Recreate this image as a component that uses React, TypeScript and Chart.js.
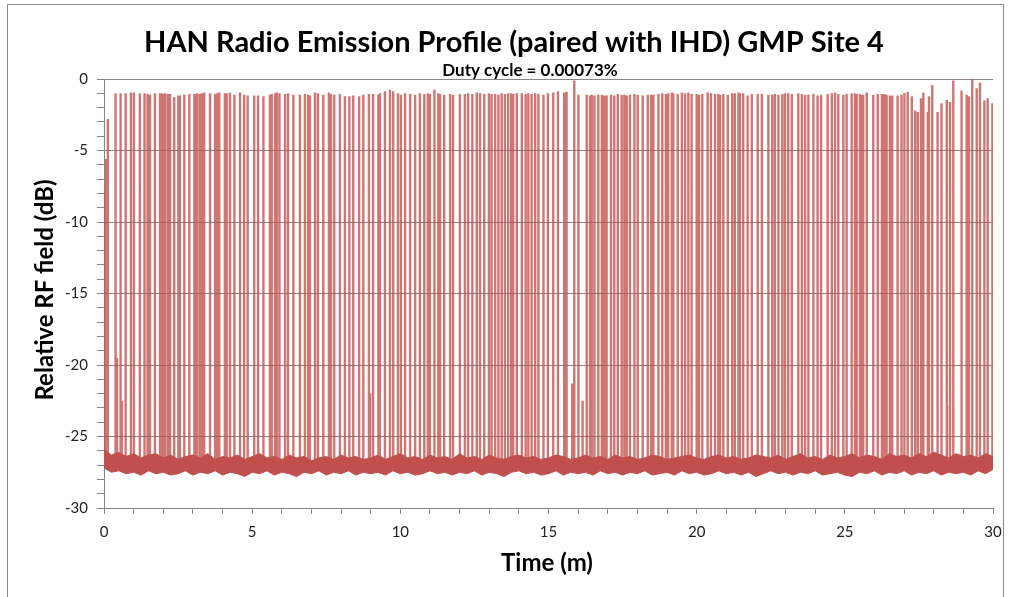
import React, { useEffect, useRef } from "react";
import { Chart, registerables } from "chart.js";

Chart.register(...registerables);

const TITLE = "HAN Radio Emission Profile (paired with IHD) GMP Site 4";
const SUBTITLE = "Duty cycle = 0.00073%";
const X_TITLE = "Time (m)";
const Y_TITLE = "Relative RF field (dB)";

const xTickLabels = [0, 5, 10, 15, 20, 25, 30];
const yTickLabels = [0, -5, -10, -15, -20, -25, -30];

const FLOOR_LEVEL = -27;

// [time (min), peak level (dB)] of each transmission burst
const spikes: [number, number][] = [
  [0.02, -7.8], [0.07, -5.6], [0.13, -2.8],
  [0.39, -1.0], [0.56, -1.0], [0.73, -1.0], [0.91, -0.95], [1.01, -0.95], [1.21, -1.0], [1.35, -1.0],
  [1.47, -1.05], [1.55, -1.1], [1.72, -1.0], [1.89, -1.0], [1.95, -1.0], [2.0, -1.05], [2.06, -1.0],
  [2.15, -1.05], [2.23, -1.05], [2.37, -1.25], [2.51, -1.15], [2.56, -1.15], [2.71, -1.1], [2.88, -1.05],
  [3.05, -1.05], [3.13, -1.0], [3.22, -1.05], [3.3, -1.0], [3.38, -0.95], [3.58, -1.0], [3.75, -1.05],
  [3.81, -1.0], [3.89, -0.95], [4.08, -1.0], [4.14, -1.0], [4.25, -0.95], [4.4, -1.1], [4.59, -0.95],
  [4.73, -1.1], [4.85, -1.15],
  [5.07, -1.15], [5.2, -1.15], [5.38, -1.2], [5.6, -1.1], [5.66, -1.05], [5.77, -1.0], [5.83, -0.95],
  [5.92, -1.0], [6.11, -1.05], [6.21, -1.0], [6.39, -1.1], [6.61, -1.1], [6.78, -1.05], [6.89, -1.1],
  [6.95, -1.15], [7.12, -0.95], [7.22, -1.0], [7.4, -1.1], [7.59, -0.95], [7.66, -1.05], [7.77, -1.1],
  [7.96, -1.05], [8.13, -1.2], [8.28, -1.2], [8.41, -1.15], [8.61, -1.2], [8.75, -1.1], [8.94, -1.05],
  [9.08, -1.05], [9.26, -1.1], [9.31, -1.0], [9.48, -0.85], [9.65, -0.75], [9.76, -0.85], [9.92, -1.0],
  [10.02, -1.1], [10.16, -1.0], [10.33, -1.05], [10.5, -1.1], [10.66, -1.0], [10.81, -1.05], [10.93, -1.0],
  [11.0, -1.05], [11.15, -0.75], [11.28, -1.0], [11.34, -1.05], [11.48, -1.1], [11.68, -1.05], [11.78, -1.1],
  [12.01, -1.05], [12.18, -1.05], [12.29, -1.0], [12.43, -1.05], [12.58, -0.95], [12.69, -1.0], [12.83, -1.05],
  [12.99, -1.0], [13.08, -1.05], [13.2, -1.05], [13.31, -1.1], [13.42, -1.0], [13.53, -1.05], [13.64, -1.0],
  [13.74, -1.0], [13.81, -1.05], [13.93, -1.0], [14.1, -1.0], [14.23, -1.05], [14.32, -1.0], [14.43, -1.05],
  [14.55, -1.0], [14.66, -1.05], [14.83, -1.1], [14.98, -1.0],
  [15.16, -0.95], [15.32, -0.85], [15.53, -0.95], [15.61, -0.9], [15.87, -0.1], [16.01, -1.1], [16.29, -1.1],
  [16.4, -1.15], [16.46, -1.1], [16.55, -1.15], [16.68, -1.1], [16.8, -1.1], [16.88, -1.15], [16.96, -1.15],
  [17.11, -1.1], [17.22, -1.15], [17.34, -1.05], [17.47, -1.1], [17.56, -1.1], [17.64, -1.15], [17.75, -1.1],
  [17.9, -1.05], [18.01, -1.1], [18.18, -1.15], [18.35, -1.1], [18.46, -1.1], [18.54, -1.1], [18.71, -1.05],
  [18.84, -1.0], [18.96, -1.05], [19.04, -1.0], [19.16, -0.95], [19.21, -1.0], [19.36, -1.05], [19.5, -0.95],
  [19.61, -1.0], [19.72, -0.95], [19.83, -1.05], [20.0, -1.05], [20.08, -1.1],
  [20.19, -1.05], [20.37, -0.95], [20.48, -1.0], [20.62, -1.05], [20.73, -1.05], [20.79, -1.1], [20.9, -1.05],
  [21.05, -1.1], [21.2, -1.0], [21.29, -1.0], [21.41, -0.95], [21.46, -1.0], [21.57, -1.0], [21.72, -1.15],
  [21.86, -1.05], [22.06, -1.05], [22.2, -1.05], [22.42, -1.1], [22.55, -1.1], [22.64, -1.05], [22.76, -1.1],
  [22.89, -1.05], [22.98, -1.0], [23.09, -1.0], [23.21, -1.05], [23.43, -1.0], [23.55, -1.05], [23.66, -1.1],
  [23.77, -1.1], [23.94, -1.05], [24.08, -1.15], [24.2, -1.1], [24.42, -1.05], [24.56, -1.0], [24.67, -0.95],
  [24.78, -1.05], [24.95, -1.1], [25.06, -1.05],
  [25.23, -1.0], [25.34, -1.0], [25.4, -1.05], [25.51, -1.05], [25.57, -1.1], [25.62, -1.1], [25.74, -0.95],
  [25.96, -1.1], [26.11, -1.05], [26.25, -1.05], [26.33, -1.05], [26.41, -1.1], [26.52, -1.15], [26.6, -1.15],
  [26.78, -1.15], [26.92, -1.1], [27.01, -1.0], [27.12, -0.9], [27.26, -1.2], [27.37, -2.2], [27.46, -2.3],
  [27.57, -1.35], [27.65, -0.95], [27.8, -2.3], [27.84, -1.2], [27.95, -0.42], [28.13, -2.3], [28.27, -1.7],
  [28.44, -1.47], [28.55, -1.6], [28.66, -0.1], [28.94, -0.8], [29.11, -1.1], [29.19, -1.2], [29.3, 0.0],
  [29.45, -0.65], [29.56, -0.25], [29.71, -1.5], [29.82, -1.35], [29.98, -1.7],
];

// weaker bursts that stay well below the main level
const lowSpikes: [number, number][] = [
  [0.44, -19.5], [0.6, -22.5], [1.38, -23.5], [8.98, -22.0], [15.8, -21.3],
  [16.15, -22.5], [26.9, -23.0], [28.25, -23.3], [28.45, -22.8],
];

// noise floor envelope, every quarter minute
const noiseTimes = [
  0, 0.25, 0.5, 0.75, 1, 1.25, 1.5, 1.75, 2, 2.25, 2.5, 2.75, 3, 3.25, 3.5, 3.75, 4, 4.25, 4.5, 4.75,
  5, 5.25, 5.5, 5.75, 6, 6.25, 6.5, 6.75, 7, 7.25, 7.5, 7.75, 8, 8.25, 8.5, 8.75, 9, 9.25, 9.5, 9.75,
  10, 10.25, 10.5, 10.75, 11, 11.25, 11.5, 11.75, 12, 12.25, 12.5, 12.75, 13, 13.25, 13.5, 13.75, 14, 14.25, 14.5, 14.75,
  15, 15.25, 15.5, 15.75, 16, 16.25, 16.5, 16.75, 17, 17.25, 17.5, 17.75, 18, 18.25, 18.5, 18.75, 19, 19.25, 19.5, 19.75,
  20, 20.25, 20.5, 20.75, 21, 21.25, 21.5, 21.75, 22, 22.25, 22.5, 22.75, 23, 23.25, 23.5, 23.75, 24, 24.25, 24.5, 24.75,
  25, 25.25, 25.5, 25.75, 26, 26.25, 26.5, 26.75, 27, 27.25, 27.5, 27.75, 28, 28.25, 28.5, 28.75, 29, 29.25, 29.5, 29.75,
  30,
];
const noiseUpper = [
  -25.9, -26.3, -26.1, -26.4, -26.2, -26.5, -26.3, -26.2, -26.5, -26.3,
  -26.6, -26.4, -26.3, -26.5, -26.2, -26.6, -26.4, -26.5, -26.3, -26.6,
  -26.4, -26.2, -26.5, -26.4, -26.6, -26.3, -26.5, -26.4, -26.7, -26.5,
  -26.4, -26.6, -26.3, -26.5, -26.4, -26.6, -26.5, -26.3, -26.6, -26.4,
  -26.2, -26.5, -26.4, -26.6, -26.3, -26.5, -26.4, -26.6, -26.2, -26.5,
  -26.4, -26.6, -26.3, -26.5, -26.6, -26.4, -26.3, -26.5, -26.4, -26.6,
  -26.5, -26.3, -26.4, -26.6, -26.5, -26.3, -26.5, -26.4, -26.6, -26.3,
  -26.5, -26.4, -26.6, -26.5, -26.3, -26.4, -26.6, -26.5, -26.4, -26.3,
  -26.5, -26.6, -26.4, -26.3, -26.5, -26.4, -26.6, -26.5, -26.3, -26.4,
  -26.5, -26.3, -26.6, -26.4, -26.2, -26.5, -26.4, -26.6, -26.3, -26.5,
  -26.4, -26.2, -26.5, -26.3, -26.4, -26.6, -26.2, -26.4, -26.3, -26.5,
  -26.2, -26.4, -26.1, -26.3, -26.5, -26.2, -26.4, -26.3, -26.5, -26.2,
  -26.4,
];
const noiseLower = [
  -27.2, -27.5, -27.4, -27.6, -27.5, -27.7, -27.4, -27.6, -27.5, -27.7,
  -27.6, -27.4, -27.7, -27.5, -27.6, -27.4, -27.7, -27.5, -27.6, -27.8,
  -27.5, -27.6, -27.4, -27.7, -27.5, -27.6, -27.8, -27.5, -27.6, -27.4,
  -27.7, -27.5, -27.6, -27.4, -27.7, -27.5, -27.6, -27.5, -27.7, -27.4,
  -27.6, -27.5, -27.7, -27.6, -27.4, -27.6, -27.5, -27.7, -27.5, -27.6,
  -27.4, -27.7, -27.5, -27.6, -27.8, -27.5, -27.4, -27.6, -27.5, -27.7,
  -27.6, -27.4, -27.7, -27.5, -27.6, -27.5, -27.7, -27.4, -27.6, -27.5,
  -27.7, -27.5, -27.6, -27.4, -27.7, -27.6, -27.5, -27.7, -27.4, -27.6,
  -27.5, -27.7, -27.6, -27.4, -27.6, -27.5, -27.7, -27.5, -27.8, -27.6,
  -27.4, -27.6, -27.5, -27.7, -27.5, -27.6, -27.4, -27.7, -27.6, -27.5,
  -27.7, -27.8, -27.5, -27.6, -27.4, -27.7, -27.5, -27.6, -27.4, -27.7,
  -27.5, -27.6, -27.4, -27.7, -27.5, -27.6, -27.5, -27.7, -27.4, -27.6,
  -27.3,
];

const LINE_COLOR = "rgb(192, 80, 77)";
const SPIKE_COLOR = "rgba(192, 80, 77, 0.78)";
const GRID_COLOR = "#868686";
const FONT = "Lato, 'Open Sans', sans-serif";

const titlesPlugin = {
  id: "titles",
  afterDraw(chart: any) {
    const ctx = chart.ctx as CanvasRenderingContext2D;
    ctx.save();
    ctx.fillStyle = "#000";
    ctx.textAlign = "center";
    ctx.textBaseline = "alphabetic";
    ctx.font = `bold 29px ${FONT}`;
    ctx.fillText(TITLE, 514, 52);
    ctx.font = `bold 17px ${FONT}`;
    ctx.fillText(SUBTITLE, 530, 76);
    ctx.font = `bold 24px ${FONT}`;
    ctx.fillText(X_TITLE, 547, 571);
    ctx.translate(45, 290);
    ctx.rotate(-Math.PI / 2);
    ctx.textBaseline = "middle";
    ctx.fillText(Y_TITLE, 0, 0);
    ctx.restore();
  },
};

const framePlugin = {
  id: "frame",
  beforeDraw(chart: any) {
    const ctx = chart.ctx as CanvasRenderingContext2D;
    ctx.save();
    ctx.fillStyle = "#fff";
    ctx.fillRect(0, 0, chart.width, chart.height);
    ctx.strokeStyle = "#8a8a8a";
    ctx.lineWidth = 1;
    ctx.strokeRect(7.5, 4.5, 996, 610);
    ctx.restore();
  },
};

export default function App() {
  const canvasRef = useRef<HTMLCanvasElement | null>(null);

  useEffect(() => {
    if (!canvasRef.current) return;

    const events = spikes
      .concat(lowSpikes)
      .map(([t, p]) => ({ t, p }))
      .sort((a, b) => a.t - b.t);
    const spikeData: { x: number; y: number }[] = [{ x: 0, y: FLOOR_LEVEL }];
    events.forEach((e) => {
      spikeData.push({ x: e.t, y: FLOOR_LEVEL }, { x: e.t, y: e.p }, { x: e.t, y: FLOOR_LEVEL });
    });
    spikeData.push({ x: 30, y: FLOOR_LEVEL });

    const upperData = noiseTimes.map((t, i) => ({ x: t, y: noiseUpper[i] }));
    const lowerData = noiseTimes.map((t, i) => ({ x: t, y: noiseLower[i] }));

    const chart = new Chart(canvasRef.current, {
      type: "line",
      data: {
        datasets: [
          {
            data: spikeData,
            borderColor: SPIKE_COLOR,
            borderWidth: 2.4,
            borderJoinStyle: "miter",
            pointRadius: 0,
            tension: 0,
            fill: false,
          },
          {
            data: upperData,
            borderColor: LINE_COLOR,
            backgroundColor: LINE_COLOR,
            borderWidth: 1,
            pointRadius: 0,
            tension: 0,
            fill: "+1",
          },
          {
            data: lowerData,
            borderColor: LINE_COLOR,
            borderWidth: 1,
            pointRadius: 0,
            tension: 0,
            fill: false,
          },
        ],
      },
      options: {
        animation: false,
        responsive: false,
        layout: { padding: { top: 79, right: 18, left: 0, bottom: 0 } },
        plugins: {
          legend: { display: false },
          tooltip: { enabled: false },
          title: { display: false },
        },
        scales: {
          x: {
            type: "linear",
            min: 0,
            max: 30,
            afterFit: (scale: any) => {
              scale.height = 89;
            },
            border: { color: GRID_COLOR, width: 1 },
            grid: {
              drawOnChartArea: false,
              drawTicks: true,
              tickLength: 6,
              tickColor: GRID_COLOR,
              color: GRID_COLOR,
            },
            ticks: {
              stepSize: 1,
              autoSkip: false,
              maxRotation: 0,
              padding: 9,
              color: "#222",
              font: { family: FONT, size: 15 },
              callback: (v: any) => (xTickLabels.includes(Number(v)) ? String(v) : ""),
            },
          },
          y: {
            type: "linear",
            min: -30,
            max: 0,
            afterFit: (scale: any) => {
              scale.width = 104;
            },
            border: { color: GRID_COLOR, width: 1 },
            grid: {
              drawTicks: true,
              tickLength: 7,
              tickColor: GRID_COLOR,
              color: (c: any) =>
                c.tick && yTickLabels.includes(c.tick.value) ? GRID_COLOR : "rgba(0,0,0,0)",
            },
            ticks: {
              stepSize: 1,
              autoSkip: false,
              padding: 9,
              color: "#222",
              font: { family: FONT, size: 15 },
              callback: (v: any) => (yTickLabels.includes(Number(v)) ? String(v) : ""),
            },
          },
        },
      },
      plugins: [framePlugin, titlesPlugin],
    } as any);

    return () => chart.destroy();
  }, []);

  return (
    <div style={{ position: "fixed", left: 0, top: 0, width: 1011, height: 597, background: "#fff" }}>
      <canvas ref={canvasRef} width={1011} height={597} style={{ width: 1011, height: 597, display: "block" }} />
    </div>
  );
}
